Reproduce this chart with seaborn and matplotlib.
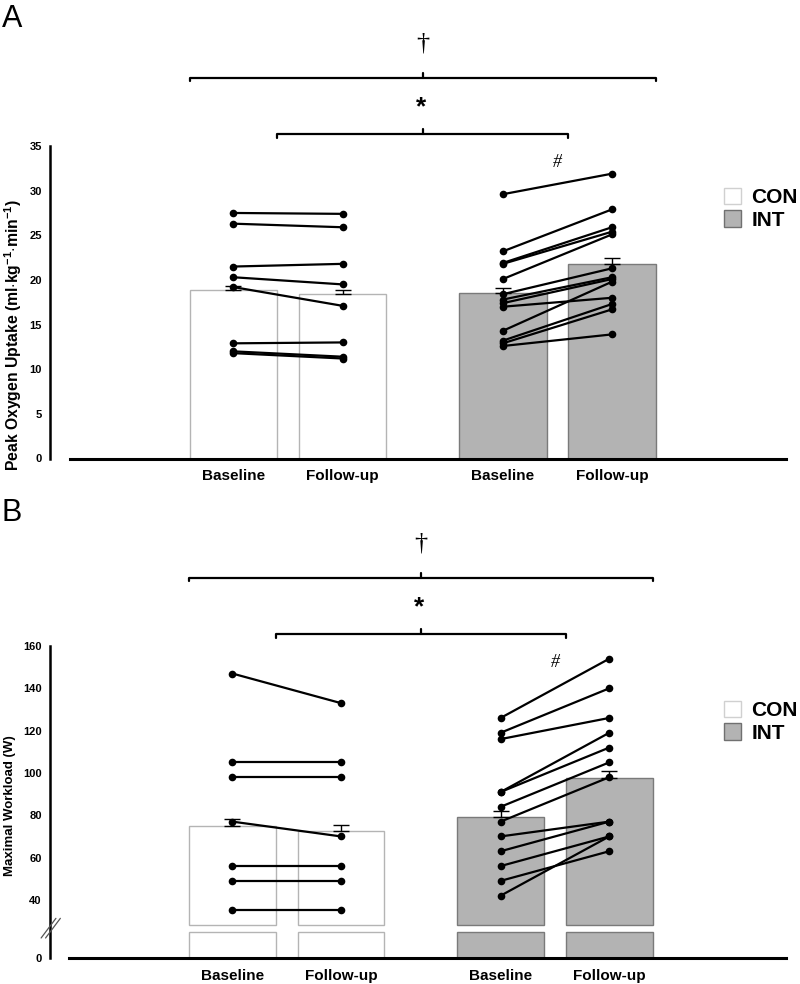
import numpy as np
import pandas as pd
import matplotlib
matplotlib.use("Agg")
import matplotlib.pyplot as plt
import matplotlib.transforms as mtransforms
from matplotlib.patches import Patch, Rectangle
import seaborn as sns

# ---------------- data ----------------
groups = ["CON", "INT"]
times = ["Baseline", "Follow-up"]

# Panel A: peak oxygen uptake
vo2_bar_con = [18.9, 18.4]
vo2_bar_int = [18.5, 21.8]
vo2_sem_con = [0.4, 0.5]
vo2_sem_int = [0.6, 0.65]
vo2_con_base = [27.5, 26.3, 21.5, 20.3, 19.2, 12.9, 12.0, 11.8]
vo2_con_fu = [27.4, 25.9, 21.8, 19.5, 17.1, 13.0, 11.4, 11.2]
vo2_int_base = [29.6, 23.2, 21.9, 21.8, 20.1, 18.4, 17.8, 17.4, 17.0, 14.3, 13.2, 12.9, 12.6]
vo2_int_fu = [31.9, 27.9, 25.9, 25.4, 25.1, 21.3, 20.3, 20.1, 18.0, 19.8, 17.3, 16.7, 13.9]

# Panel B: maximal workload
wl_bar_con = [75.1, 72.6]
wl_bar_int = [79.2, 97.8]
wl_sem_con = [3.2, 2.9]
wl_sem_int = [3.0, 3.2]
wl_con_base = [147, 105, 98, 77, 56, 49, 35]
wl_con_fu = [133, 105, 98, 70, 56, 49, 35]
wl_int_base = [126, 119, 116, 91, 91, 84, 77, 70, 63, 56, 49, 42]
wl_int_fu = [154, 140, 126, 119, 112, 105, 98, 77, 77, 70, 63, 70]

vo2_ticks = [0, 5, 10, 15, 20, 25, 30, 35]
wl_ticks = [0, 40, 60, 80, 100, 120, 140, 160]
wl_minor = [50, 70, 90, 110, 130, 150]

# ---------------- style ----------------
sns.set_theme(style="white")
plt.rcParams["font.family"] = ["Liberation Sans", "DejaVu Sans"]
plt.rcParams["text.color"] = "black"
plt.rcParams["axes.labelcolor"] = "black"
plt.rcParams["mathtext.fontset"] = "custom"
plt.rcParams["mathtext.rm"] = "Liberation Sans:bold"
plt.rcParams["mathtext.bf"] = "Liberation Sans:bold"
plt.rcParams["mathtext.it"] = "Liberation Sans:bold"

CON_FACE, CON_EDGE = "#ffffff", "#b4b4b4"
INT_FACE, INT_EDGE = "#b3b3b3", "#7a7a7a"

W, H = 800, 984
fig = plt.figure(figsize=(W / 100, H / 100), dpi=100)


def fig_box(left_px, top_px, right_px, bottom_px):
    return [left_px / W, 1 - bottom_px / H, (right_px - left_px) / W, (bottom_px - top_px) / H]


def draw_panel(ax, bar_con, bar_int, sem_con, sem_int, con_b, con_f, int_b, int_f,
               xlim, xbounds, ylabel, ylab_xy, ylab_size):
    df = pd.DataFrame({
        "group": ["CON", "CON", "INT", "INT"],
        "time": times * 2,
        "value": list(bar_con) + list(bar_int),
    })
    sns.barplot(data=df, x="group", y="value", hue="time", order=groups,
                hue_order=times, width=0.81, gap=0.2, dodge=True,
                errorbar=None, legend=False, ax=ax, linewidth=1.0)
    bars = sorted([p for p in ax.patches], key=lambda p: p.get_x())
    centers = [p.get_x() + p.get_width() / 2 for p in bars]
    for i, p in enumerate(bars):
        if i < 2:
            p.set_facecolor(CON_FACE); p.set_edgecolor(CON_EDGE)
        else:
            p.set_facecolor(INT_FACE); p.set_edgecolor(INT_EDGE)
        p.set_linewidth(1.0)

    # error bars (upper only)
    means = list(bar_con) + list(bar_int)
    sems = list(sem_con) + list(sem_int)
    ax.errorbar(centers, means, yerr=[np.zeros(4), sems], fmt="none",
                ecolor="black", elinewidth=1.0, capsize=5.5, capthick=1.0, zorder=3)

    # individual trajectories
    rows = []
    for sid, (b, f) in enumerate(zip(con_b, con_f)):
        rows.append(("c%d" % sid, centers[0], b)); rows.append(("c%d" % sid, centers[1], f))
    for sid, (b, f) in enumerate(zip(int_b, int_f)):
        rows.append(("i%d" % sid, centers[2], b)); rows.append(("i%d" % sid, centers[3], f))
    ld = pd.DataFrame(rows, columns=["subject", "x", "y"])
    sns.lineplot(data=ld, x="x", y="y", units="subject", estimator=None,
                 color="black", linewidth=1.6, marker="o", markersize=5.5,
                 markeredgewidth=0, legend=False, ax=ax, zorder=4)

    ax.set_xlim(*xlim)
    ax.set_xticks(centers)
    ax.set_xticklabels(times * 2, fontsize=11, fontweight="bold")
    ax.tick_params(axis="x", length=0, pad=7.5, colors="black")
    ax.set_xlabel("")
    ax.set_ylabel(ylabel, fontsize=ylab_size, fontweight="bold", color="black")
    ax.yaxis.set_label_coords(*ylab_xy)
    ax.tick_params(axis="y", direction="in", length=4, width=1.2, pad=6,
                   labelsize=8, colors="black")
    for s in ["top", "right"]:
        ax.spines[s].set_visible(False)
    ax.spines["left"].set_color("black"); ax.spines["left"].set_linewidth(1.8)
    ax.spines["bottom"].set_color("black"); ax.spines["bottom"].set_linewidth(2.2)
    ax.spines["bottom"].set_bounds(*xbounds)
    ax.grid(False)
    return bars, centers


# ---------------- Panel A ----------------
axA = fig.add_axes(fig_box(50, 146, 790, 458.5))
barsA, cA = draw_panel(axA, vo2_bar_con, vo2_bar_int, vo2_sem_con, vo2_sem_int,
                       vo2_con_base, vo2_con_fu, vo2_int_base, vo2_int_fu,
                       xlim=(-0.883, 1.863), xbounds=(-0.809, 1.848),
                       ylabel=r"Peak Oxygen Uptake (ml$\cdot$kg$^{-1}$$\cdot$min$^{-1}$)",
                       ylab_xy=(-0.035, 0.395), ylab_size=11.3)
axA.set_ylim(0, 35)
axA.set_yticks(vo2_ticks)
axA.set_yticklabels([str(t) for t in vo2_ticks], fontweight="bold")

# ---------------- Panel B ----------------
B_HI, S_DISP, STUB = 28.0, 15.6, 22.6


def fwd(v):
    v = np.asarray(v, dtype=float)
    return np.where(v >= B_HI, v - B_HI + S_DISP, v * S_DISP / B_HI)


def inv(d):
    d = np.asarray(d, dtype=float)
    return np.where(d >= S_DISP, d - S_DISP + B_HI, d * B_HI / S_DISP)


axB = fig.add_axes(fig_box(50, 646, 790, 958.3))
axB.set_yscale("function", functions=(fwd, inv))
barsB, cB = draw_panel(axB, wl_bar_con, wl_bar_int, wl_sem_con, wl_sem_int,
                       wl_con_base, wl_con_fu, wl_int_base, wl_int_fu,
                       xlim=(-0.882, 1.876), xbounds=(-0.81, 1.861),
                       ylabel="Maximal Workload (W)", ylab_xy=(-0.046, 0.488),
                       ylab_size=9.5)
axB.set_yscale("function", functions=(fwd, inv))
axB.set_ylim(0, 160)
axB.set_yticks(wl_ticks)
axB.set_yticklabels([str(t) for t in wl_ticks], fontweight="bold")
axB.set_yticks(wl_minor, minor=True)
axB.tick_params(axis="y", which="minor", direction="in", length=2.5, width=1.0)
# split bars at the axis break
for p in barsB:
    x, w, h = p.get_x(), p.get_width(), p.get_height()
    p.set_y(B_HI); p.set_height(h - B_HI)
    axB.add_patch(Rectangle((x, 0), w, STUB, facecolor=p.get_facecolor(),
                            edgecolor=p.get_edgecolor(), linewidth=1.0, zorder=p.get_zorder()))
# break marks on the y axis
for dx in (0.0, 0.006):
    axB.plot([-0.012 + dx, 0.008 + dx], [0.065, 0.128], transform=axB.transAxes,
             color="#555555", lw=0.9, clip_on=False, zorder=5)

# ---------------- significance brackets ----------------
def brackets(ax, bars, hash_y):
    tr = mtransforms.blended_transform_factory(ax.transData, ax.transAxes)
    x0 = bars[0].get_x(); x3 = bars[3].get_x() + bars[3].get_width()
    x1 = bars[0].get_x() + bars[0].get_width(); x2 = bars[3].get_x()
    xm = (x0 + x3) / 2
    kw = dict(transform=tr, color="black", lw=1.6, clip_on=False)
    ax.plot([x0, x0, x3, x3], [1.207, 1.219, 1.219, 1.207], **kw)
    ax.plot([xm, xm], [1.219, 1.235], **kw)
    ax.plot([x1, x1, x2, x2], [1.027, 1.038, 1.038, 1.027], **kw)
    ax.plot([xm, xm], [1.038, 1.054], **kw)
    ax.text(xm, 1.327, "\u2020", transform=tr, ha="center", va="center",
            fontsize=19, color="black", family=["Liberation Serif", "DejaVu Serif"])
    ax.text(xm - 0.005, 1.124, "*", transform=tr, ha="center", va="center",
            fontsize=19, fontweight="bold", color="black")
    ax.text(1.0, hash_y, "#", transform=tr, ha="center", va="center",
            fontsize=13, style="italic", color="black",
            family=["Liberation Serif", "DejaVu Serif"])


brackets(axA, barsA, 0.946)
brackets(axB, barsB, 0.946)

# ---------------- legends ----------------
handles = [Patch(facecolor=CON_FACE, edgecolor="#d0d0d0", linewidth=1.0, label="CON"),
           Patch(facecolor=INT_FACE, edgecolor="#707070", linewidth=1.0, label="INT")]
for top_px in (188, 701):
    leg = fig.legend(handles=handles, loc="upper left", bbox_to_anchor=(724 / W, 1 - top_px / H),
                     frameon=False, borderpad=0, borderaxespad=0, handlelength=0.82,
                     handleheight=0.82, handletextpad=0.5, labelspacing=0.15,
                     prop={"size": 15, "weight": "bold"})
    for t in leg.get_texts():
        t.set_color("black")

# ---------------- panel letters ----------------
fig.text(2 / W, 1 - 4 / H, "A", fontsize=22, ha="left", va="top", color="black")
fig.text(2 / W, 1 - 498 / H, "B", fontsize=22, ha="left", va="top", color="black")

fig.savefig("out.png", dpi=100)
